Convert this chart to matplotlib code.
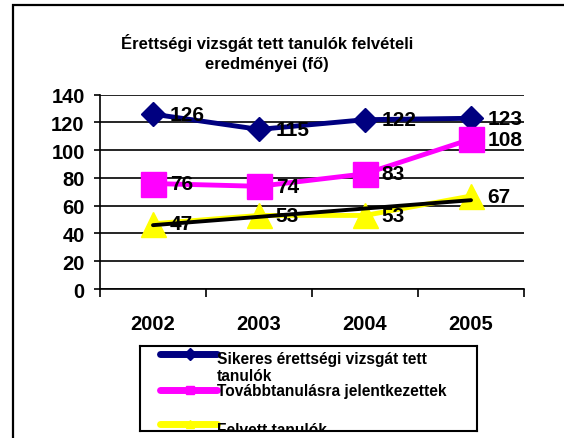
import numpy as np
import matplotlib
matplotlib.use("Agg")
import matplotlib.pyplot as plt
from matplotlib.patches import Rectangle
from matplotlib.lines import Line2D

plt.rcParams['font.family'] = ['Liberation Sans', 'DejaVu Sans']

years = ["2002", "2003", "2004", "2005"]
sikeres = [126, 115, 122, 123]
tovabb = [76, 74, 83, 108]
felvett = [47, 53, 53, 67]
names = ["Sikeres érettségi vizsgát tett\ntanulók",
         "Továbbtanulásra jelentkezettek",
         "Felvett tanulók"]
title = "Érettségi vizsgát tett tanulók felvételi\neredményei (fő)"

W, H = 564, 439
fig = plt.figure(figsize=(W / 100, H / 100), dpi=100)

# outer chart border (cut at right and bottom)
fig.patches.append(Rectangle((13 / W, -0.1), 1.2, 1 - 6 / H + 0.1,
                             transform=fig.transFigure, fill=False,
                             edgecolor='black', linewidth=1.6))

ax = fig.add_axes([100 / W, 1 - 290 / H, 424 / W, (290 - 95.7) / H])
x = np.arange(len(years))

series = [
    (sikeres, '#000080', 'D', 12),
    (tovabb, '#FF00FF', 's', 18),
    (felvett, '#FFFF00', '^', 18),
]
for vals, col, mk, ms in series:
    ax.plot(x, vals, color=col, lw=3.5, marker=mk, ms=ms,
            markeredgecolor=col, zorder=3, clip_on=False)

# linear trend line of "Felvett tanulók"
coef = np.polyfit(x, felvett, 1)
ax.plot([x[0], x[-1]], np.polyval(coef, [x[0], x[-1]]), color='black',
        lw=2.8, zorder=4, solid_capstyle='round')

for vals, col, mk, ms in series:
    for xi, v in zip(x, vals):
        ax.annotate(str(v), (xi, v), xytext=(12, 0), textcoords='offset points',
                    ha='left', va='center', fontsize=15, fontweight='bold',
                    zorder=5, annotation_clip=False)

ax.set_xlim(-0.5, 3.5)
ax.set_ylim(0, 140)
ax.set_yticks(range(0, 141, 20))
ax.yaxis.grid(True, color='black', lw=1.2)
ax.set_axisbelow(True)
ax.set_xticks(x)
ax.set_xticklabels(years, fontsize=14.5, fontweight='bold')
ax.set_xticks(np.arange(-0.5, 3.6, 1), minor=True)
ax.tick_params(axis='x', which='major', length=0, pad=18)
ax.tick_params(axis='x', which='minor', length=6, width=1.2, direction='out')
ax.tick_params(axis='y', length=4, width=1.2, labelsize=14.5, pad=7)
for lab in ax.get_yticklabels():
    lab.set_fontweight('bold')
for s in ['top', 'right']:
    ax.spines[s].set_visible(False)
ax.spines['left'].set_linewidth(1.2)
ax.spines['bottom'].set_linewidth(1.2)

fig.text(267 / W, 1 - 53 / H, title, ha='center', va='center', fontsize=12,
         fontweight='bold', linespacing=1.45)

# legend box (clipped at the bottom as in the original)
lax = fig.add_axes([140 / W, 1 - 432 / H, 337 / W, 85 / H])
lax.set_xlim(0, 337)
lax.set_ylim(85, 0)
lax.set_xticks([])
lax.set_yticks([])
for s in lax.spines.values():
    s.set_linewidth(1.5)
ly = [8, 44, 78]
ty = [21, 45, 84]
for (vals, col, mk, ms), name, yl, yt in zip(series, names, ly, ty):
    lax.add_line(Line2D([20, 50, 77], [yl, yl, yl], color=col, lw=5,
                        marker=mk, markevery=[1], ms=6, markeredgecolor=col,
                        solid_capstyle='round'))
    lax.text(77, yt, name, ha='left', va='center', fontsize=11.2,
             fontweight='bold', linespacing=1.2, clip_on=True)

fig.savefig("out.png", dpi=100)
